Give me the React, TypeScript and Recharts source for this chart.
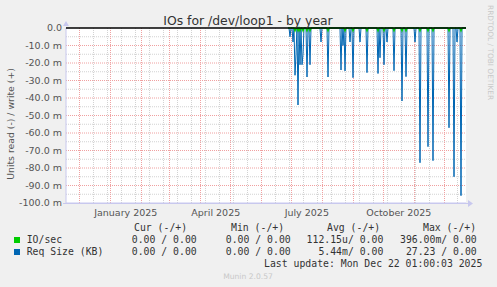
import React from 'react';
import { LineChart, Line, XAxis, YAxis, CartesianGrid, ReferenceLine } from 'recharts';

const W = 497;
const H = 287;

// x axis: day index, 0 = 17 Nov 2024 (one pixel per day, yearly view of 400 days)
const monthStartDays = [13.5, 44.5, 75.5, 103.5, 134.5, 164.5, 195.5, 225.5, 256.5, 287.5, 317.5, 348.5, 378.5];
const biweeklyDays = [27.5, 41.5, 55.5, 69.5, 83.5, 97.5, 111.5, 125.5, 139.5, 153.5, 167.5, 181.5, 209.5, 223.5, 237.5, 251.5, 265.5, 279.5, 293.5, 307.5, 321.5, 335.5, 349.5, 363.5, 391.5];
const monthLabelDays = [59.8, 149.8, 240.8, 332.8];
const monthLabels = ['January 2025', 'April 2025', 'July 2025', 'October 2025'];

const yMajorTicks = [0, -10, -20, -30, -40, -50, -60, -70, -80, -90, -100];
const yMinorTicks = [-5, -15, -25, -35, -45, -55, -65, -75, -85, -95];

// data exists from this day on (value 0 between spikes)
const firstDataDay = 222;

// Req Size (KB), read side (plotted negative, in milli units)
const reqSizeDays = [224, 227, 229, 230, 232, 234, 236, 237, 241, 244, 255, 262, 275, 277, 279, 284, 287, 294, 301, 312, 314, 318, 321, 328, 336, 340, 349, 354, 362, 367, 383, 388, 391, 395];
const reqSizeRead = [-5, -8, -27, -15, -44, -21, -21, -15, -28, -21, -8, -28, -24, -10, -24.5, -8, -28.4, -8, -25.5, -26, -17, -21, -8, -24.4, -41.7, -27.8, -8, -77, -67.8, -75.8, -57, -85, -8, -95.8];

// IO/sec, read side
const ioDays = [229, 232, 234, 237, 241, 244, 262, 279, 287, 301, 312, 318, 328, 336, 340, 354, 362, 367, 383, 395];
const ioRead = [-1.5, -1.5, -1.5, -1.5, -1.5, -1.5, -1.5, -1.5, -1.5, -1.5, -1.5, -1.5, -1.5, -1.5, -1.5, -1.5, -1.5, -1.5, -1.5, -1.5];

const reqMap = new Map<number, number>();
reqSizeDays.forEach((d, i) => reqMap.set(d, reqSizeRead[i]));
const ioMap = new Map<number, number>();
ioDays.forEach((d, i) => ioMap.set(d, ioRead[i]));

const data: { day: number; req: number | null; io: number | null }[] = [];
for (let d = 0; d <= 400; d++) {
  data.push({
    day: d,
    req: d < firstDataDay ? null : reqMap.get(d) ?? 0,
    io: d < firstDataDay ? null : ioMap.get(d) ?? 0,
  });
}

const SANS = "'DejaVu Sans', sans-serif";
const MONO = "'DejaVu Sans Mono', monospace";
const TXT = '#333';
const AXIS = '#c8c8ee';

const legendRows = [
  { name: 'IO/sec', color: '#00cc00', cur: '0.00 / 0.00', min: '0.00 / 0.00', avg: '112.15u/ 0.00', max: '396.00m/ 0.00' },
  { name: 'Req Size (KB)', color: '#0066b3', cur: '0.00 / 0.00', min: '0.00 / 0.00', avg: '5.44m/ 0.00', max: '27.23 / 0.00' },
];

export default function App() {
  return (
    <div style={{ position: 'fixed', left: 0, top: 0, width: W, height: H, background: '#f0f0f0' }}>
      <LineChart width={W} height={H} data={data} margin={{ top: 28, right: 31, bottom: 0, left: 0 }}>
        <CartesianGrid horizontal={false} vertical={false} fill="#ffffff" stroke="none" />
        {yMinorTicks.map((v) => (
          <ReferenceLine key={'ym' + v} y={v} stroke="#d2d2d2" strokeDasharray="1 1" />
        ))}
        {biweeklyDays.map((d) => (
          <ReferenceLine key={'xm' + d} x={d} stroke="#d2d2d2" strokeDasharray="1 1" />
        ))}
        {yMajorTicks.filter((v) => v !== 0 && v !== -100).map((v) => (
          <ReferenceLine key={'yM' + v} y={v} stroke="#f0a0a0" strokeDasharray="1 1" />
        ))}
        {monthStartDays.map((d) => (
          <ReferenceLine key={'xM' + d} x={d} stroke="#f0a0a0" strokeDasharray="1 1" />
        ))}
        <XAxis
          dataKey="day"
          type="number"
          domain={[0, 400]}
          ticks={monthLabelDays}
          interval={0}
          height={84}
          tickSize={0}
          tickMargin={6}
          axisLine={{ stroke: AXIS }}
          tickLine={false}
          tick={{ fill: '#555', fontSize: 9.5, fontFamily: SANS }}
          tickFormatter={(v: number) => monthLabels[monthLabelDays.indexOf(v)] ?? ''}
        />
        <YAxis
          type="number"
          domain={[-100, 0]}
          ticks={yMajorTicks}
          interval={0}
          width={66}
          tickSize={0}
          tickMargin={4}
          axisLine={{ stroke: AXIS }}
          tickLine={false}
          tick={{ fill: '#555', fontSize: 9.5, fontFamily: SANS }}
          tickFormatter={(v: number) => (v === 0 ? '0.0' : `${v.toFixed(1)} m`)}
        />
        <Line type="linear" dataKey="req" stroke="#0066b3" strokeWidth={1} dot={false} activeDot={false} isAnimationActive={false} connectNulls={false} />
        <Line type="linear" dataKey="io" stroke="#00cc00" strokeWidth={1.5} dot={false} activeDot={false} isAnimationActive={false} connectNulls={false} />
      </LineChart>
      <svg width={W} height={H} style={{ position: 'absolute', left: 0, top: 0, pointerEvents: 'none' }}>
        {/* zero line */}
        <line x1={66} y1={28} x2={466} y2={28} stroke="#000" strokeWidth={1.6} />
        <text x={248} y={24.5} textAnchor="middle" fontFamily={SANS} fontSize={12.4} fill={TXT}>
          IOs for /dev/loop1 - by year
        </text>
        <text
          transform="translate(13.5,124) rotate(-90)"
          textAnchor="middle"
          fontFamily={SANS}
          fontSize={9.3}
          fill="#555"
        >
          Units read (-) / write (+)
        </text>
        <text
          transform="translate(487.5,5) rotate(90)"
          textAnchor="start"
          fontFamily={SANS}
          fontSize={7.4}
          fill="#c8c8c8"
        >
          RRDTOOL / TOBI OETIKER
        </text>
        {/* axis arrows */}
        <polygon points="63,26 69,26 66,21" fill={AXIS} />
        <line x1={63} y1={203.5} x2={468} y2={203.5} stroke={AXIS} />
        <polygon points="468,200 468,207 473,203.5" fill={AXIS} />
        {/* legend */}
        <g fontFamily={MONO} fontSize={9.8} fill={TXT}>
          <text x={134} y={231}>Cur (-/+)</text>
          <text x={231} y={231}>Min (-/+)</text>
          <text x={327} y={231}>Avg (-/+)</text>
          <text x={423} y={231}>Max (-/+)</text>
          {legendRows.map((r, i) => {
            const y = 243 + i * 12;
            return (
              <g key={r.name}>
                <rect x={14} y={y - 6} width={6} height={6} fill={r.color} />
                <text x={26.7} y={y}>{r.name}</text>
                <text x={196.7} y={y} textAnchor="end">{r.cur}</text>
                <text x={290.7} y={y} textAnchor="end">{r.min}</text>
                <text x={383.3} y={y} textAnchor="end">{r.avg}</text>
                <text x={476.7} y={y} textAnchor="end">{r.max}</text>
              </g>
            );
          })}
          <text x={482.3} y={267} textAnchor="end">Last update: Mon Dec 22 01:00:03 2025</text>
        </g>
        <text x={248} y={279} textAnchor="middle" fontFamily={SANS} fontSize={7.6} fill="#c8c8c8">
          Munin 2.0.57
        </text>
      </svg>
    </div>
  );
}
